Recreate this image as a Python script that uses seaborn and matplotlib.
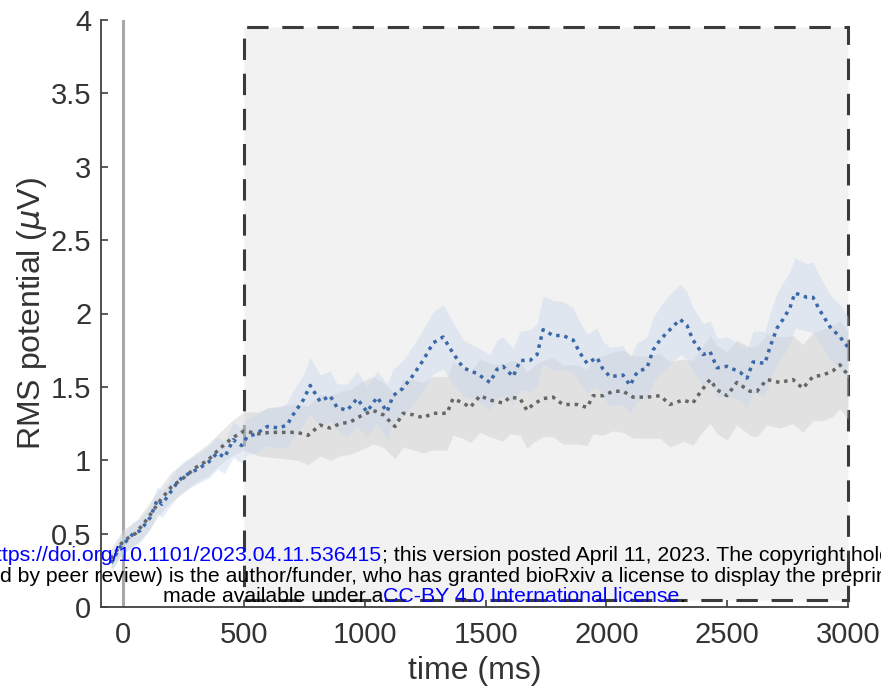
import seaborn as sns
import matplotlib.pyplot as plt
import matplotlib.patches as patches
from matplotlib.text import Annotation

# time axis (ms) and RMS values for the two conditions
blue_t = [-50, -12, 20, 41, 70, 112, 141, 160, 182, 220,
          248, 285, 319, 355, 389, 420, 455, 490, 513, 550,
          596, 645, 678, 703, 745, 774, 815, 856, 885, 927,
          968, 1009, 1051, 1092, 1117, 1158, 1200, 1241, 1283, 1324,
          1365, 1407, 1465, 1518, 1547, 1572, 1614, 1643, 1684, 1713,
          1738, 1779, 1820, 1862, 1891, 1920, 1961, 1986, 2015, 2069,
          2098, 2127, 2168, 2193, 2222, 2251, 2305, 2333, 2358, 2400,
          2429, 2458, 2499, 2553, 2582, 2607, 2656, 2677, 2706, 2731,
          2760, 2780, 2830, 2855, 2884, 2925, 2967, 3000]
blue_rms = [0.30, 0.41, 0.46, 0.50, 0.52, 0.61, 0.73, 0.70, 0.75, 0.84,
            0.89, 0.92, 0.95, 0.99, 1.05, 1.02, 1.14, 1.10, 1.16, 1.18,
            1.23, 1.22, 1.24, 1.31, 1.41, 1.51, 1.40, 1.44, 1.36, 1.34,
            1.42, 1.33, 1.43, 1.33, 1.44, 1.49, 1.58, 1.68, 1.80, 1.84,
            1.73, 1.63, 1.59, 1.53, 1.62, 1.64, 1.57, 1.68, 1.68, 1.72,
            1.89, 1.85, 1.85, 1.82, 1.73, 1.66, 1.70, 1.62, 1.57, 1.58,
            1.51, 1.60, 1.63, 1.75, 1.82, 1.87, 1.96, 1.92, 1.82, 1.72,
            1.74, 1.63, 1.64, 1.60, 1.56, 1.67, 1.66, 1.77, 1.90, 1.96,
            2.04, 2.14, 2.11, 2.11, 2.02, 1.91, 1.84, 1.77]
blue_sem = [0.06, 0.07, 0.07, 0.08, 0.08, 0.08, 0.09, 0.09, 0.09, 0.10,
            0.10, 0.10, 0.10, 0.11, 0.11, 0.11, 0.12, 0.12, 0.12, 0.13,
            0.13, 0.14, 0.15, 0.16, 0.17, 0.19, 0.18, 0.17, 0.16, 0.18,
            0.19, 0.17, 0.18, 0.19, 0.18, 0.19, 0.20, 0.21, 0.21, 0.22,
            0.21, 0.19, 0.18, 0.19, 0.20, 0.20, 0.19, 0.20, 0.21, 0.21,
            0.23, 0.24, 0.23, 0.22, 0.21, 0.20, 0.20, 0.19, 0.20, 0.20,
            0.19, 0.20, 0.21, 0.22, 0.23, 0.24, 0.24, 0.23, 0.22, 0.21,
            0.21, 0.20, 0.20, 0.19, 0.20, 0.21, 0.22, 0.23, 0.24, 0.25,
            0.25, 0.24, 0.23, 0.24, 0.23, 0.22, 0.22, 0.21]

gray_t = [-50, 0, 50, 100, 150, 200, 250, 300, 350, 400,
          450, 500, 560, 608, 662, 720, 765, 815, 856, 898,
          939, 981, 1034, 1076, 1125, 1158, 1200, 1241, 1283, 1340,
          1365, 1407, 1436, 1477, 1518, 1572, 1601, 1643, 1671, 1696,
          1738, 1779, 1820, 1878, 1920, 1945, 1986, 2027, 2069, 2110,
          2168, 2222, 2263, 2317, 2358, 2387, 2429, 2458, 2499, 2540,
          2594, 2623, 2664, 2718, 2772, 2813, 2855, 2896, 2938, 2967,
          3000]
gray_rms = [0.33, 0.45, 0.50, 0.60, 0.72, 0.82, 0.88, 0.95, 1.00, 1.08,
            1.15, 1.20, 1.18, 1.19, 1.19, 1.19, 1.17, 1.24, 1.22, 1.25,
            1.26, 1.30, 1.34, 1.31, 1.23, 1.32, 1.31, 1.29, 1.32, 1.32,
            1.42, 1.39, 1.36, 1.44, 1.41, 1.39, 1.43, 1.42, 1.34, 1.38,
            1.42, 1.43, 1.38, 1.38, 1.36, 1.44, 1.44, 1.47, 1.47, 1.43,
            1.43, 1.44, 1.38, 1.41, 1.39, 1.46, 1.55, 1.48, 1.44, 1.53,
            1.47, 1.47, 1.55, 1.53, 1.55, 1.49, 1.57, 1.58, 1.61, 1.65,
            1.58]
gray_sem = [0.07, 0.08, 0.08, 0.09, 0.09, 0.10, 0.10, 0.10, 0.11, 0.11,
            0.12, 0.13, 0.15, 0.17, 0.18, 0.19, 0.20, 0.21, 0.22, 0.22,
            0.22, 0.23, 0.23, 0.22, 0.22, 0.23, 0.24, 0.24, 0.25, 0.25,
            0.25, 0.24, 0.24, 0.25, 0.25, 0.26, 0.25, 0.25, 0.26, 0.26,
            0.26, 0.27, 0.27, 0.27, 0.26, 0.26, 0.27, 0.27, 0.28, 0.28,
            0.28, 0.29, 0.29, 0.28, 0.29, 0.29, 0.30, 0.30, 0.30, 0.29,
            0.30, 0.31, 0.31, 0.31, 0.30, 0.30, 0.30, 0.31, 0.31, 0.30,
            0.30]

yticks = [0, 0.5, 1, 1.5, 2, 2.5, 3, 3.5, 4]
ytick_labels = ['0', '0.5', '1', '1.5', '2', '2.5', '3', '3.5', '4']
xticks = [0, 500, 1000, 1500, 2000, 2500, 3000]

sns.set_style('ticks')
plt.rcParams['font.family'] = ['Liberation Sans', 'DejaVu Sans']

W, H = 881, 694
fig = plt.figure(figsize=(W / 100, H / 100), dpi=100)
ax = fig.add_axes([101 / W, 87 / H, 747 / W, 587 / H])

# analysis window
win = patches.Rectangle((500, 0.05), 2500, 3.9, facecolor='#f2f2f2',
                        edgecolor='#3a3a3a', linewidth=2.2,
                        linestyle=(0, (7, 4.5)), zorder=0, clip_on=False)
ax.add_patch(win)
ax.axvline(0, color='#a8a8a8', lw=2.2, zorder=1)

# error bands
ax.fill_between(gray_t, [m - s for m, s in zip(gray_rms, gray_sem)],
                [m + s for m, s in zip(gray_rms, gray_sem)],
                color='#d2d2d2', alpha=0.5, lw=0, zorder=2)
ax.fill_between(blue_t, [m - s for m, s in zip(blue_rms, blue_sem)],
                [m + s for m, s in zip(blue_rms, blue_sem)],
                color='#c9d8ec', alpha=0.45, lw=0, zorder=2)

sns.lineplot(x=gray_t, y=gray_rms, ax=ax, color='#666666', lw=2.5,
             linestyle=(0, (1, 1.4)), zorder=3)
sns.lineplot(x=blue_t, y=blue_rms, ax=ax, color='#3a68a8', lw=2.5,
             linestyle=(0, (1, 1.4)), zorder=4)

ax.set_xlim(-92, 3000)
ax.set_ylim(0, 4)
ax.set_xticks(xticks)
ax.set_xticklabels([str(t) for t in xticks])
ax.set_yticks(yticks)
ax.set_yticklabels(ytick_labels)
sns.despine(ax=ax)
for side in ['left', 'bottom']:
    ax.spines[side].set_color('#404040')
    ax.spines[side].set_linewidth(1.3)
ax.tick_params(direction='in', length=5, width=1.2, color='#404040',
               labelcolor='#333333', labelsize=21)
ax.tick_params(axis='x', pad=10)
ax.tick_params(axis='y', pad=7)
ax.set_xlabel('time (ms)', fontsize=23, color='#333333', labelpad=5)
ax.set_ylabel(r'RMS potential ($\mu$V)', fontsize=23, color='#333333',
              labelpad=1)

# bioRxiv watermark laid over the figure
fs = 15.3
wm = dict(fontsize=fs, va='baseline', zorder=10)
blue = '#0000ff'
l1 = fig.text(382 / W, 1 - 561 / H,
              '; this version posted April 11, 2023. The copyright holder for this preprint',
              ha='left', color='black', **wm)
u1 = Annotation('https://doi.org/10.1101/2023.04.11.536415', xy=(0, 0),
                xycoords=l1, ha='right', va='bottom', fontsize=fs,
                color=blue, zorder=10)
fig.add_artist(u1)
fig.add_artist(Annotation('bioRxiv preprint doi: ', xy=(0, 0), xycoords=u1,
                          ha='right', va='bottom', fontsize=fs,
                          color='black', zorder=10))
fig.text(0, 1 - 582 / H, '(which was not certifie', ha='right',
         color='black', **wm)
fig.text(0, 1 - 582 / H,
         'd by peer review) is the author/funder, who has granted bioRxiv a license to display the preprint in perpetuity. It is',
         ha='left', color='black', **wm)
l3 = fig.text(163 / W, 1 - 602 / H, 'made available under a', ha='left',
              color='black', **wm)
u3 = Annotation('CC-BY 4.0 International license', xy=(1, 0), xycoords=l3,
                ha='left', va='bottom', fontsize=fs, color=blue, zorder=10)
fig.add_artist(u3)
fig.add_artist(Annotation('.', xy=(1, 0), xycoords=u3, ha='left',
                          va='bottom', fontsize=fs, color='black', zorder=10))

fig.savefig('out.png', dpi=100)
